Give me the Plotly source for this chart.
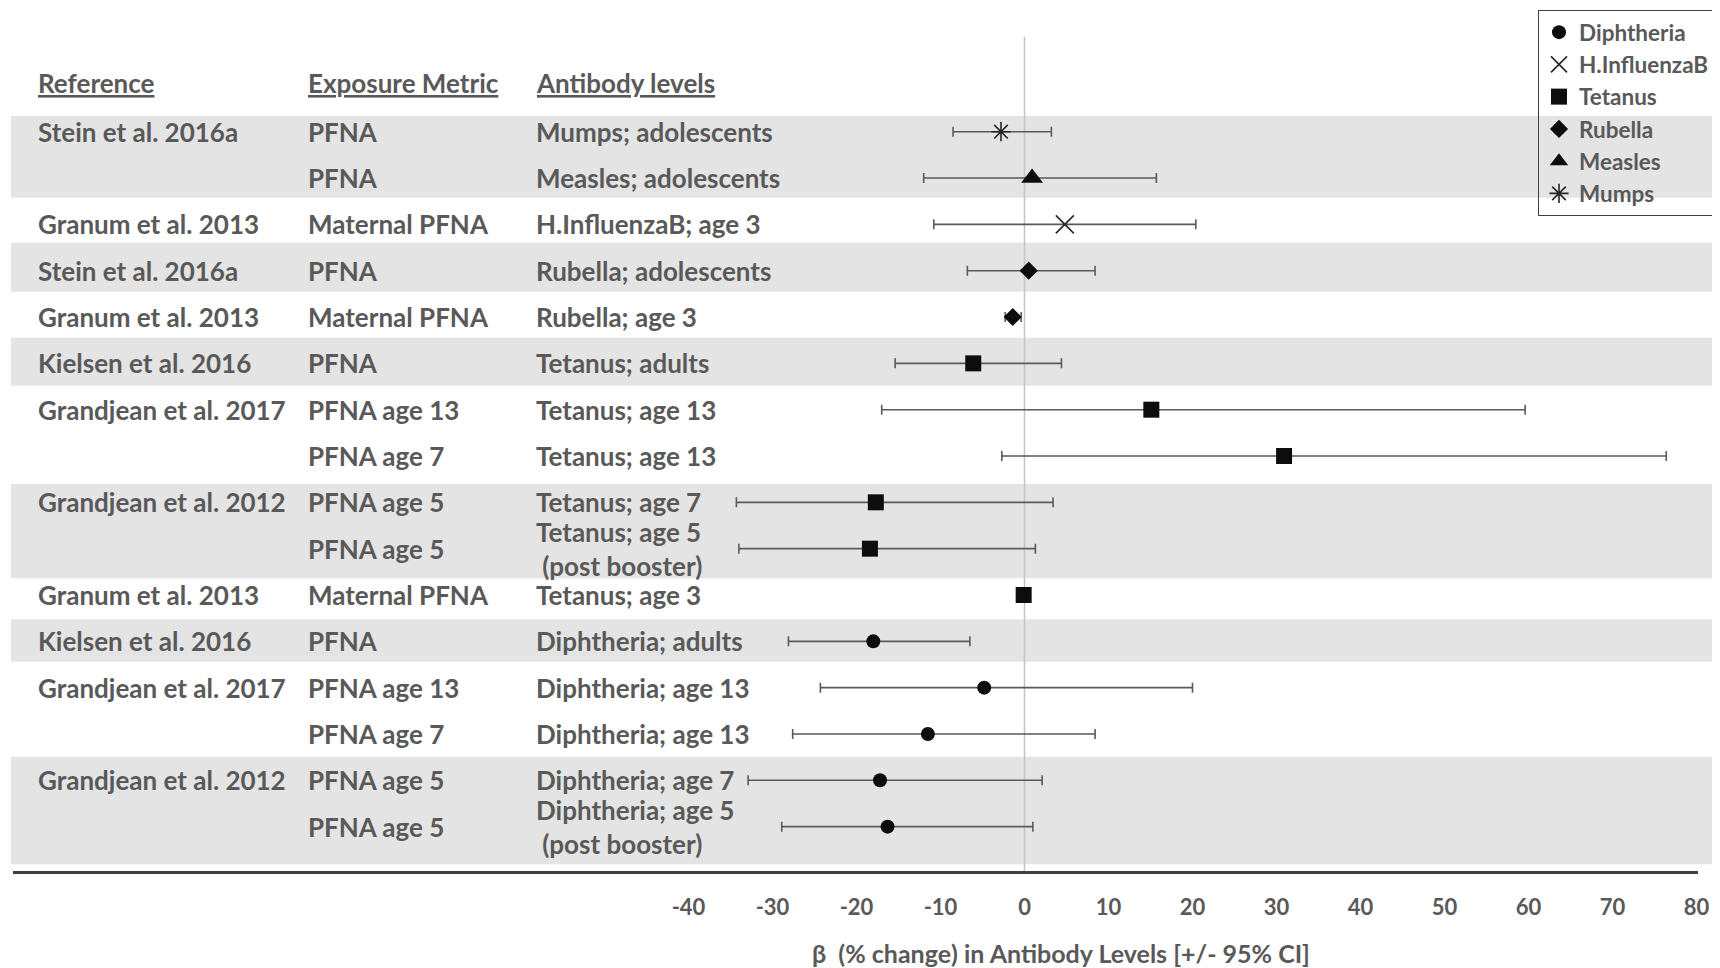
import plotly.graph_objects as go

# ---------------- data ----------------
header_labels = ["Reference", "Exposure Metric", "Antibody levels"]

references = ["Stein et al. 2016a", "", "Granum et al. 2013", "Stein et al. 2016a",
              "Granum et al. 2013", "Kielsen et al. 2016", "Grandjean et al. 2017", "",
              "Grandjean et al. 2012", "", "Granum et al. 2013", "Kielsen et al. 2016",
              "Grandjean et al. 2017", "", "Grandjean et al. 2012", ""]

exposures = ["PFNA", "PFNA", "Maternal PFNA", "PFNA", "Maternal PFNA", "PFNA",
             "PFNA age 13", "PFNA age 7", "PFNA age 5", "PFNA age 5", "Maternal PFNA",
             "PFNA", "PFNA age 13", "PFNA age 7", "PFNA age 5", "PFNA age 5"]

antibodies = ["Mumps; adolescents", "Measles; adolescents", "H.InfluenzaB; age 3",
              "Rubella; adolescents", "Rubella; age 3", "Tetanus; adults",
              "Tetanus; age 13", "Tetanus; age 13", "Tetanus; age 7",
              "Tetanus; age 5<br> (post booster)", "Tetanus; age 3",
              "Diphtheria; adults", "Diphtheria; age 13", "Diphtheria; age 13",
              "Diphtheria; age 7", "Diphtheria; age 5<br> (post booster)"]

vaccine = ["Mumps", "Measles", "H.InfluenzaB", "Rubella", "Rubella", "Tetanus",
           "Tetanus", "Tetanus", "Tetanus", "Tetanus", "Tetanus",
           "Diphtheria", "Diphtheria", "Diphtheria", "Diphtheria", "Diphtheria"]

beta = [-2.8, 0.9, 4.8, 0.5, -1.4, -6.1, 15.1, 30.9, -17.7, -18.4, -0.1,
        -18.0, -4.8, -11.5, -17.2, -16.3]
ci_low = [-8.5, -12.0, -10.8, -6.8, -2.3, -15.4, -17.0, -2.7, -34.3, -34.0, -0.5,
          -28.1, -24.3, -27.6, -32.9, -28.9]
ci_high = [3.2, 15.7, 20.4, 8.4, -0.4, 4.4, 59.6, 76.4, 3.4, 1.3, 0.3,
           -6.5, 20.0, 8.4, 2.1, 1.0]

legend_order = ["Diphtheria", "H.InfluenzaB", "Tetanus", "Rubella", "Measles", "Mumps"]
tick_values = [-40, -30, -20, -10, 0, 10, 20, 30, 40, 50, 60, 70, 80]
x_title = "\u03b2\u00a0 (% change) in Antibody Levels [+/- 95% CI]"

# ---------------- styling ----------------
TEXT = "#595959"
MARK = "#0d0d0d"
FONT = "Lato"
OFF = 8                      # page body margin
W, H = 1720 - OFF, 968 - OFF
PLOT_L, PLOT_R, PLOT_B = 13 - OFF, 1698 - OFF, 871 - OFF

symbols = {
    "Diphtheria": dict(symbol="circle", size=14, color=MARK),
    "H.InfluenzaB": dict(symbol="x-thin", size=18, color=MARK, line=dict(width=1.6, color="#262626")),
    "Tetanus": dict(symbol="square", size=16, color=MARK),
    "Rubella": dict(symbol="diamond", size=14, color=MARK),
    "Measles": dict(symbol="triangle-up", size=19, color=MARK),
    "Mumps": dict(symbol="asterisk", size=16, color=MARK, line=dict(width=1.6, color="#262626")),
}

ROW0_PX, ROW_PX = 131.7, 46.33
def yv(px):
    return (px - ROW0_PX) / ROW_PX

X0_PX, X_PX = 1024.5, 8.4
def xv(px):
    return (px - X0_PX) / X_PX

rows = list(range(len(beta)))

fig = go.Figure()
for v in legend_order:
    idx = [i for i in rows if vaccine[i] == v]
    fig.add_trace(go.Scatter(
        x=[beta[i] for i in idx],
        y=[rows[i] for i in idx],
        mode="markers",
        name=v,
        marker=symbols[v],
        error_x=dict(type="data", symmetric=False,
                     array=[ci_high[i] - beta[i] for i in idx],
                     arrayminus=[beta[i] - ci_low[i] for i in idx],
                     color="#5a5a5a", thickness=1.6, width=5),
        hoverinfo="skip",
    ))

# shaded bands (screen-pixel extents of each group)
band_px = [(116, 197.7), (242.7, 291.7), (337.7, 385.7), (484, 578.3),
           (619.3, 661.7), (756.7, 864.3)]
shapes = []
for a, b in band_px:
    shapes.append(dict(type="rect", xref="paper", yref="y",
                       x0=(11 - OFF - PLOT_L) / (PLOT_R - PLOT_L), x1=1.05,
                       y0=yv(a), y1=yv(b), fillcolor="#e4e4e4",
                       line=dict(width=0), layer="below"))
# zero reference line
shapes.append(dict(type="line", xref="x", yref="y", x0=0, x1=0,
                   y0=yv(36.7), y1=yv(PLOT_B + OFF), line=dict(color="#c4c4c4", width=1.5),
                   layer="below"))

annotations = []
col_x = [xv(36), xv(306), xv(534)]
tfont = dict(family=FONT, size=26, color=TEXT, weight=700)
for cx, lab in zip(col_x, header_labels):
    annotations.append(dict(x=cx, y=yv(83), xref="x", yref="y", text=lab,
                            showarrow=False, xanchor="left", yanchor="middle",
                            font=dict(tfont, lineposition="under")))
for col, cx in zip([references, exposures, antibodies], col_x):
    for i, t in enumerate(col):
        if t:
            annotations.append(dict(x=cx, y=rows[i], xref="x", yref="y", text=t,
                                    showarrow=False, xanchor="left", yanchor="middle",
                                    align="left", font=tfont))
annotations.append(dict(x=(1061 - OFF - PLOT_L) / (PLOT_R - PLOT_L),
                        y=(PLOT_B - (953 - OFF)) / PLOT_B,
                        xref="paper", yref="paper", text=x_title, showarrow=False,
                        xanchor="center", yanchor="middle",
                        font=dict(family=FONT, size=25, color=TEXT, weight=700)))

fig.update_layout(
    width=W, height=H,
    margin=dict(l=PLOT_L, r=W - PLOT_R, t=0, b=H - PLOT_B, autoexpand=False),
    paper_bgcolor="white", plot_bgcolor="rgba(0,0,0,0)",
    shapes=shapes, annotations=annotations,
    showlegend=True,
    legend=dict(x=(1538 - OFF - PLOT_L) / (PLOT_R - PLOT_L), y=1 - (10 - OFF) / PLOT_B,
                xanchor="left", yanchor="top", bgcolor="rgba(0,0,0,0)",
                bordercolor="#404040", borderwidth=1,
                font=dict(family=FONT, size=22.5, color=TEXT, weight=700),
                tracegroupgap=0),
    xaxis=dict(range=[xv(PLOT_L + OFF), xv(PLOT_R + OFF)], tickvals=tick_values,
               ticktext=[str(t) for t in tick_values],
               showgrid=False, zeroline=False, showline=True, linecolor="#3f3f3f",
               linewidth=2.5, ticks="", ticklabelstandoff=15,
               tickfont=dict(family=FONT, size=22, color=TEXT, weight=700),
               fixedrange=True),
    yaxis=dict(range=[yv(PLOT_B + OFF), yv(OFF)], visible=False, showgrid=False,
               zeroline=False, fixedrange=True),
)

fig.write_html("out.html")
